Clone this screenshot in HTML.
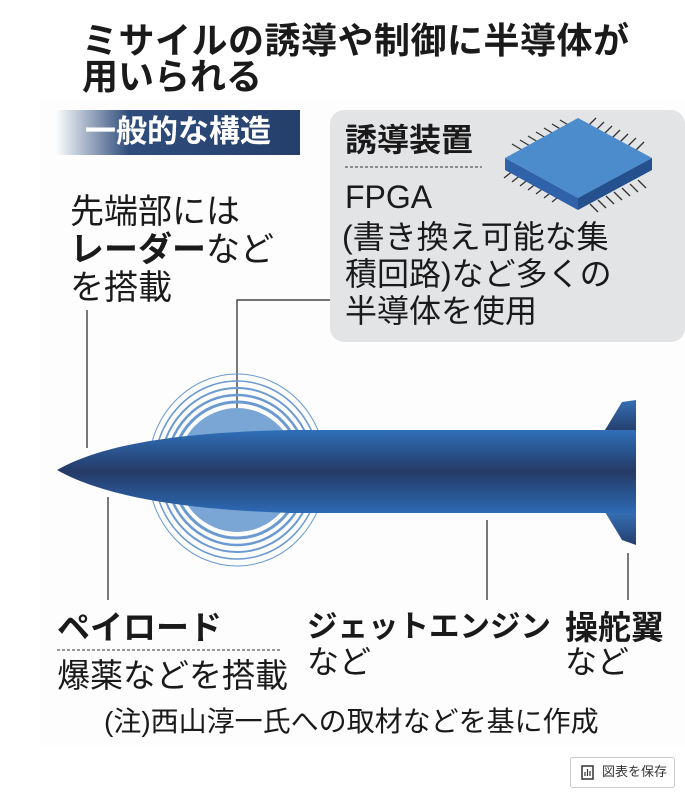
<!DOCTYPE html>
<html><head><meta charset="utf-8"><style>
body{margin:0;width:685px;height:795px;background:#fff;position:relative;overflow:hidden;font-family:"Liberation Sans","Noto Sans CJK JP",sans-serif;color:#1a1a1a}
.t{position:absolute;white-space:nowrap;line-height:1}
.b{font-weight:bold}
</style></head><body>
<svg width="685" height="795" style="position:absolute;left:0;top:0">
<defs>
<linearGradient id="hd" x1="0" x2="1" y1="0" y2="0"><stop offset="0" stop-color="#fff"/><stop offset="0.3" stop-color="#2f4d7c"/><stop offset="1" stop-color="#253f6b"/></linearGradient>
<linearGradient id="bd" x1="0" x2="0" y1="0" y2="1"><stop offset="0" stop-color="#2f6fb8"/><stop offset="0.5" stop-color="#253a66"/><stop offset="1" stop-color="#2d6ab4"/></linearGradient>
<linearGradient id="fin" x1="0" x2="0" y1="0" y2="1"><stop offset="0" stop-color="#3570b5"/><stop offset="1" stop-color="#253f6e"/></linearGradient>
</defs>
<rect x="40" y="100" width="645" height="645" fill="#fdfdfd"/>
<rect x="55" y="110" width="245" height="45" fill="url(#hd)"/>
<rect x="330" y="110" width="355" height="232" rx="14" fill="#e3e4e6"/>
<line x1="345" y1="167" x2="482" y2="167" stroke="#333" stroke-dasharray="3,2"/>
<!-- chip pins -->
<g stroke="#333" stroke-width="1.3">
<line x1="522" y1="150" x2="512" y2="144"/><line x1="530" y1="146" x2="520" y2="140"/><line x1="538" y1="142" x2="528" y2="136"/><line x1="546" y1="138" x2="536" y2="132"/><line x1="554" y1="134" x2="544" y2="128"/><line x1="562" y1="130" x2="552" y2="124"/><line x1="570" y1="126" x2="560" y2="120"/>
<line x1="588" y1="126" x2="596" y2="118"/><line x1="596" y1="130" x2="604" y2="122"/><line x1="604" y1="134" x2="612" y2="126"/><line x1="612" y1="138" x2="620" y2="130"/><line x1="620" y1="142" x2="628" y2="134"/><line x1="628" y1="146" x2="636" y2="138"/><line x1="636" y1="150" x2="644" y2="142"/>
<line x1="514" y1="170" x2="504" y2="178"/><line x1="522" y1="174" x2="512" y2="182"/><line x1="530" y1="178" x2="520" y2="186"/><line x1="538" y1="182" x2="528" y2="190"/><line x1="546" y1="186" x2="536" y2="194"/><line x1="554" y1="190" x2="544" y2="198"/><line x1="562" y1="194" x2="552" y2="202"/>
<line x1="590" y1="204" x2="598" y2="212"/><line x1="598" y1="200" x2="606" y2="208"/><line x1="606" y1="196" x2="614" y2="204"/><line x1="614" y1="192" x2="622" y2="200"/><line x1="622" y1="188" x2="630" y2="196"/><line x1="630" y1="184" x2="638" y2="192"/><line x1="638" y1="180" x2="646" y2="188"/>
</g>
<polygon points="505,158 578,118 652,158 578,198" fill="#4d8ccc"/>
<polygon points="505,158 578,198 578,210 505,170" fill="#2f62a8"/>
<polygon points="578,198 652,158 652,170 578,210" fill="#24508e"/>
<!-- leader lines -->
<g stroke="#222" stroke-width="1.2" fill="none">
<line x1="87" y1="310" x2="87" y2="448"/>
<polyline points="330,300 237,300 237,410"/>
<line x1="108" y1="497" x2="108" y2="600"/>
<line x1="487" y1="520" x2="487" y2="600"/>
<line x1="628" y1="553" x2="628" y2="600"/>
</g>
<!-- radar -->
<ellipse cx="237" cy="470" rx="60" ry="62" fill="#7aa6d6"/>
<g fill="none" stroke="#6b9ad0">
<ellipse cx="237" cy="470" rx="65" ry="68" stroke-width="3"/>
<ellipse cx="237" cy="470" rx="71" ry="75" stroke-width="2.5"/>
<ellipse cx="237" cy="470" rx="77" ry="82" stroke-width="2"/>
<ellipse cx="237" cy="470" rx="83" ry="89" stroke-width="1.5"/>
<ellipse cx="237" cy="470" rx="89" ry="96" stroke-width="1"/>
</g>
<!-- fins -->
<polygon points="605,430 622,402 636,400 636,430" fill="url(#fin)"/>
<polygon points="605,512 622,540 636,545 636,512" fill="url(#fin)"/>
<path d="M57,470 C110,440 200,432 290,430 L636,430 L636,513 L290,513 C200,510 110,500 57,470 Z" fill="url(#bd)"/>
<line x1="57" y1="650" x2="282" y2="650" stroke="#333" stroke-dasharray="3,2"/>
<rect x="570.5" y="757.5" width="104" height="30" rx="2" fill="#fff" stroke="#ccc"/>
<rect x="582" y="766" width="11" height="13" fill="none" stroke="#333" stroke-width="1.5"/>
<path d="M585 776v-4 M587.5 776v-7 M590 776v-5" stroke="#333" stroke-width="1.2"/>
</svg>
<div class="t b" style="left:82px;top:23px;font-size:36px;letter-spacing:0.5px">ミサイルの誘導や制御に半導体が</div>
<div class="t b" style="left:82px;top:59px;font-size:36px">用いられる</div>
<div class="t b" style="left:85px;top:116px;font-size:31px;color:#fff">一般的な構造</div>
<div class="t b" style="left:345px;top:124px;font-size:32px">誘導装置</div>
<div class="t" style="left:345px;top:181px;font-size:32px">FPGA</div>
<div class="t" style="left:342px;top:221px;font-size:32px">(書き換え可能な集</div>
<div class="t" style="left:345px;top:258px;font-size:32px">積回路)など多くの</div>
<div class="t" style="left:345px;top:295px;font-size:32px">半導体を使用</div>
<div class="t" style="left:70px;top:195px;font-size:34px">先端部には</div>
<div class="t" style="left:70px;top:233px;font-size:34px"><b>レーダー</b>など</div>
<div class="t" style="left:70px;top:271px;font-size:34px">を搭載</div>
<div class="t b" style="left:57px;top:611px;font-size:33px">ペイロード</div>
<div class="t" style="left:57px;top:659px;font-size:33px">爆薬などを搭載</div>
<div class="t b" style="left:307px;top:612px;font-size:30.5px">ジェットエンジン</div>
<div class="t" style="left:307px;top:646px;font-size:32px">など</div>
<div class="t b" style="left:565px;top:611px;font-size:33px">操舵翼</div>
<div class="t" style="left:565px;top:646px;font-size:32px">など</div>
<div class="t" style="left:104px;top:708px;font-size:28px">(注)西山淳一氏への取材などを基に作成</div>
<div class="t" style="left:602px;top:765px;font-size:13px;color:#333">図表を保存</div>
</body></html>
